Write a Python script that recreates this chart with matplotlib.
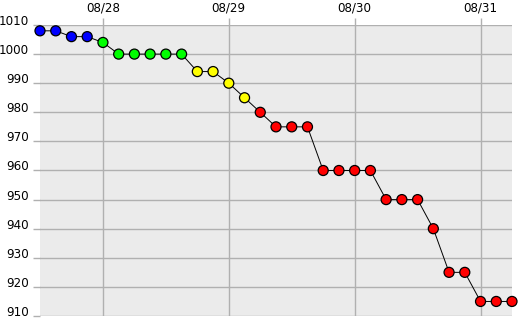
import matplotlib
matplotlib.use("Agg")
import matplotlib.pyplot as plt
import matplotlib.dates as mdates
import pandas as pd

times = pd.date_range("2023-08-27 12:00", "2023-08-31 06:00", freq="3h")
pressure = [1008, 1008, 1006, 1006, 1004, 1000, 1000, 1000, 1000, 1000,
            994, 994, 990, 985, 980, 975, 975, 975, 960, 960,
            960, 960, 950, 950, 950, 940, 925, 925, 915, 915, 915]
colors = (["#0000ff"] * 4 + ["#00ff00"] * 6 + ["#ffff00"] * 4 + ["#ff0000"] * 17)
date_ticks = pd.to_datetime(["2023-08-28", "2023-08-29", "2023-08-30", "2023-08-31"])
date_labels = ["08/28", "08/29", "08/30", "08/31"]
y_ticks = list(range(910, 1011, 10))

fig = plt.figure(figsize=(5.31, 3.26), dpi=100)
ax = fig.add_axes([40 / 531, 10 / 326, 472 / 531, 291 / 326])
ax.set_facecolor("#ebebeb")
for s in ax.spines.values():
    s.set_visible(False)

x = mdates.date2num(times)
ax.plot(x, pressure, color="black", lw=0.7, zorder=3, clip_on=False)
ax.scatter(x, pressure, s=52, c=colors, edgecolors="black", linewidths=0.9,
           zorder=4, clip_on=False)

ax.set_xlim(x[0], x[-1])
ax.set_ylim(910, 1010)
ax.set_yticks(y_ticks)
ax.set_yticklabels([str(v) for v in y_ticks], fontsize=8.6, va="baseline")
ax.set_xticks(mdates.date2num(date_ticks))
ax.set_xticklabels(date_labels, fontsize=8.6)
ax.xaxis.tick_top()
ax.tick_params(axis="y", length=5, width=1, color="#b0b0b0", pad=2.8)
ax.tick_params(axis="x", length=5, width=1, color="#b0b0b0", pad=2.8)
ax.grid(True, color="#b0b0b0", lw=1)
ax.set_axisbelow(True)

fig.savefig("out.png", dpi=100, facecolor="white")
